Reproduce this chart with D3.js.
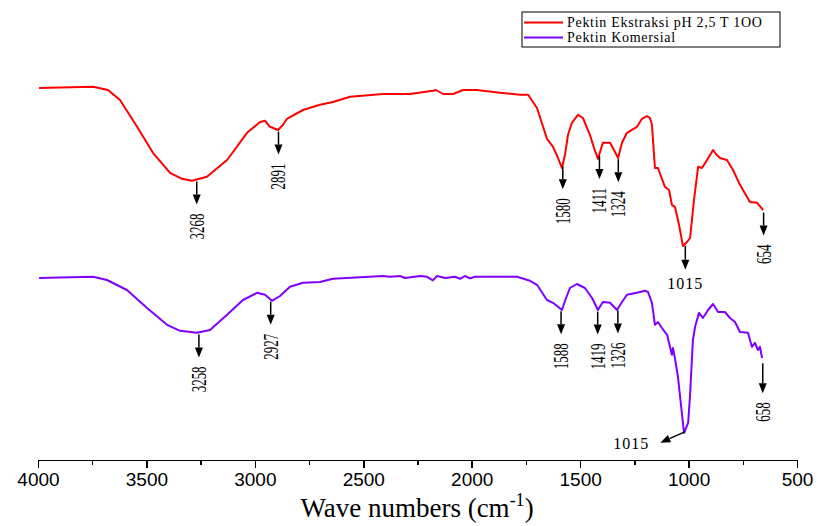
<!DOCTYPE html>
<html lang="en">
  <head>
    <meta charset="utf-8">
<style>
body { margin: 0; background: #fff; }

.axis text {
    font: 19px "Liberation Sans", Arial, sans-serif;
    fill: #000;
}

.axis line, .axis path {
    stroke: #000;
    stroke-width: 1.5px;
    shape-rendering: crispEdges;
}

.peak {
    font-family: "Liberation Serif", "Times New Roman", serif;
    fill: #000;
}

.legend text {
    font: 14px "Liberation Serif", "Times New Roman", serif;
    letter-spacing: 0.7px;
    fill: #000;
}

.title {
    font-family: "Liberation Serif", "Times New Roman", serif;
    font-size: 27px;
}
</style>
</head>
<body>
<script src="https://d3js.org/d3.v7.min.js"></script>
<svg id="chart" width="818" height="526"></svg>
<script>
var xTicks = [4000, 3500, 3000, 2500, 2000, 1500, 1000, 500];
var xMinorTicks = [3750, 3250, 2750, 2250, 1750, 1250, 750];
var seriesNames = ["Pektin Ekstraksi pH 2,5 T 1OO", "Pektin Komersial"];

// extracted pectin (upper trace), wavenumber / transmittance (offset, a.u.)
var redWave = [3995, 3899, 3746, 3677, 3622, 3543, 3470, 3391, 3336, 3290, 3221, 3128, 3036, 2976, 2953, 2930, 2893, 2870, 2852, 2778,
  2700, 2640, 2561, 2409, 2285, 2179, 2165, 2132, 2086, 2040, 1976, 1870, 1777, 1740, 1699, 1653, 1625, 1602, 1584, 1570,
  1556, 1538, 1510, 1487, 1455, 1436, 1418, 1395, 1362, 1344, 1325, 1307, 1284, 1238, 1215, 1192, 1178, 1169, 1155, 1141,
  1109, 1090, 1077, 1063, 1044, 1026, 1007, 993, 975, 956, 938, 915, 887, 874, 855, 823, 795, 763, 717, 684, 656];
var redT = [93.0, 93.1, 93.3, 92.5, 90.0, 83.3, 76.8, 71.8, 70.3, 69.8, 70.8, 75.0, 81.8, 84.5, 84.8, 83.3, 82.5, 83.8, 85.3, 87.5,
  88.8, 89.5, 90.8, 91.5, 91.5, 92.3, 92.5, 91.5, 91.5, 92.5, 92.5, 91.8, 91.3, 91.3, 88.0, 80.3, 78.3, 75.5, 73.0, 76.3,
  81.3, 84.3, 86.3, 85.5, 81.3, 78.0, 75.3, 79.3, 79.3, 77.5, 75.5, 79.3, 81.8, 83.3, 85.3, 86.0, 85.5, 83.8, 73.0, 73.0,
  68.3, 67.5, 63.8, 63.3, 58.8, 53.5, 54.5, 55.5, 65.0, 73.3, 73.0, 75.0, 77.5, 76.5, 75.5, 75.0, 72.5, 68.8, 64.5, 64.3, 62.5];

// commercial pectin (lower trace)
var purpleWave = [3995, 3899, 3746, 3682, 3590, 3497, 3405, 3345, 3267, 3207, 3128, 3055, 2990, 2953, 2921, 2884, 2838, 2778, 2700, 2640,
  2409, 2377, 2331, 2308, 2238, 2206, 2179, 2160, 2123, 2077, 2054, 2031, 2008, 1985, 1791, 1731, 1699, 1653, 1625, 1602,
  1584, 1565, 1547, 1515, 1478, 1445, 1418, 1395, 1362, 1330, 1307, 1284, 1238, 1201, 1187, 1169, 1155, 1141, 1123, 1099,
  1077, 1072, 1063, 1049, 1035, 1021, 1002, 993, 980, 970, 952, 934, 910, 887, 864, 832, 809, 786, 763, 726,
  708, 694, 680, 671, 661];
var purpleT = [45.5, 45.6, 45.8, 45.0, 42.5, 38.0, 33.8, 32.3, 31.8, 32.5, 36.3, 40.0, 41.8, 41.3, 39.8, 41.0, 43.3, 44.3, 44.5, 45.3,
  46.0, 45.8, 46.0, 45.5, 46.0, 45.8, 44.9, 46.0, 45.5, 45.8, 45.3, 46.0, 45.4, 45.8, 45.8, 44.8, 43.8, 40.0, 39.3, 38.3,
  37.5, 40.5, 43.0, 44.0, 43.0, 40.5, 37.5, 39.5, 39.3, 37.5, 39.5, 41.3, 41.8, 42.3, 42.0, 39.3, 33.8, 34.5, 33.0, 31.3,
  26.3, 28.0, 25.5, 20.8, 13.8, 6.8, 9.3, 16.3, 30.0, 33.3, 36.8, 35.5, 37.5, 39.0, 37.0, 37.0, 35.5, 34.5, 32.0, 31.8,
  28.3, 29.3, 27.5, 28.3, 25.5];

var redPeaks = [3268, 2891, 1580, 1411, 1324, 1015, 654];
var purplePeaks = [3258, 2927, 1588, 1419, 1326, 1015, 658];

var svg = d3.select("#chart"),
    colors = ["#ff0000", "#8000ff"];

var x = d3.scaleLinear().domain([4000, 500]).range([38, 797]);
var y = d3.scaleLinear().domain([0, 100]).range([460, 60]);

var line = d3.line()
    .x(function(d) { return x(d[0]); })
    .y(function(d) { return y(d[1]); });

// axis, major + minor ticks
svg.append("g")
    .attr("class", "axis")
    .attr("transform", "translate(0,460)")
    .call(d3.axisBottom(x).tickValues(xTicks).tickSize(8).tickSizeOuter(0).tickPadding(5).tickFormat(d3.format("d")));

svg.append("g")
    .attr("class", "axis")
    .attr("transform", "translate(0,460)")
    .call(d3.axisBottom(x).tickValues(xMinorTicks).tickSize(5).tickSizeOuter(0).tickFormat(""));

var title = svg.append("text")
    .attr("class", "title")
    .attr("x", 417)
    .attr("y", 517)
    .attr("text-anchor", "middle");
title.append("tspan").text("Wave numbers (cm");
title.append("tspan").attr("dy", -11).style("font-size", "18px").text("-1");
title.append("tspan").attr("dy", 11).text(")");

svg.append("path")
    .datum(d3.zip(redWave, redT))
    .attr("d", line)
    .attr("fill", "none")
    .attr("stroke", colors[0])
    .attr("stroke-width", 2)
    .attr("stroke-linejoin", "round");

svg.append("path")
    .datum(d3.zip(purpleWave, purpleT))
    .attr("d", line)
    .attr("fill", "none")
    .attr("stroke", colors[1])
    .attr("stroke-width", 2)
    .attr("stroke-linejoin", "round");

function arrow(x1, y1, x2, y2) {
  var a = Math.atan2(y2 - y1, x2 - x1),
      len = 10, half = 4;
  var bx = x2 - len * Math.cos(a), by = y2 - len * Math.sin(a);
  svg.append("line")
      .attr("x1", x1).attr("y1", y1)
      .attr("x2", bx).attr("y2", by)
      .attr("stroke", "#000")
      .attr("stroke-width", 1.5);
  svg.append("path")
      .attr("d", "M" + x2 + "," + y2 +
                 "L" + (bx + half * Math.sin(a)) + "," + (by - half * Math.cos(a)) +
                 "L" + (bx - half * Math.sin(a)) + "," + (by + half * Math.cos(a)) + "Z")
      .attr("fill", "#000");
}

function peakMarks(peaks, waves, vals, lower) {
  var at = d3.scaleLinear().domain(waves).range(vals);
  peaks.forEach(function(w) {
    var px = x(w), py = y(at(w)) + 2;
    if (w === 1015 && lower) {
      arrow(px, py, px - 25, py + 11);
      svg.append("text")
          .attr("class", "peak")
          .attr("x", px - 36)
          .attr("y", py + 17)
          .attr("text-anchor", "end")
          .style("font-size", "16px")
          .style("letter-spacing", "1px")
          .text(w);
    } else if (w === 1015) {
      arrow(px, py, px, py + 24);
      svg.append("text")
          .attr("class", "peak")
          .attr("x", px)
          .attr("y", py + 43)
          .attr("text-anchor", "middle")
          .style("font-size", "16px")
          .style("letter-spacing", "1px")
          .text(w);
    } else {
      var len = lower && w < 700 ? 30 : 23;
      arrow(px, py, px, py + len);
      svg.append("text")
          .attr("class", "peak")
          .attr("transform", "translate(" + (px + 7) + "," + (py + len + 9) + ") rotate(-90) scale(0.65,1)")
          .attr("text-anchor", "end")
          .style("font-size", "20px")
          .text(w);
    }
  });
}

peakMarks(redPeaks, redWave, redT, false);
peakMarks(purplePeaks, purpleWave, purpleT, true);

// legend
var legend = svg.append("g").attr("class", "legend");
legend.append("rect")
    .attr("x", 522).attr("y", 12)
    .attr("width", 258).attr("height", 35)
    .attr("fill", "#fff")
    .attr("stroke", "#000")
    .attr("stroke-width", 1);

seriesNames.forEach(function(name, i) {
  legend.append("line")
      .attr("x1", 524).attr("x2", 563)
      .attr("y1", 22.5 + i * 15).attr("y2", 22.5 + i * 15)
      .attr("stroke", colors[i])
      .attr("stroke-width", 2);
  legend.append("text")
      .attr("x", 567)
      .attr("y", 27 + i * 15)
      .text(name);
});
</script>
</body>
</html>
